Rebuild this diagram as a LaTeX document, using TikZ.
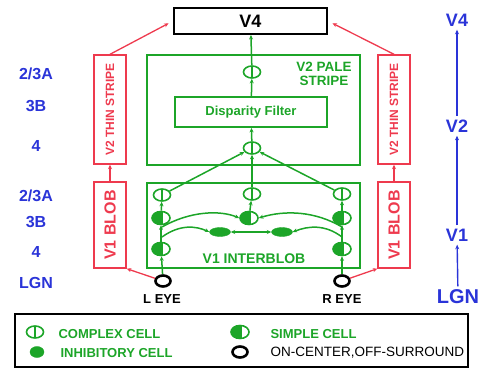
\documentclass[tikz,border=0pt]{standalone}
\usepackage{fontspec}
\setmainfont{Liberation Sans}
\usetikzlibrary{arrows.meta,shapes.geometric}
\definecolor{cellgreen}{RGB}{28,165,40}
\definecolor{stripered}{RGB}{238,58,78}
\definecolor{layerblue}{RGB}{42,52,216}

\begin{document}
\begin{tikzpicture}[x=1pt, y=-1pt, >={Stealth[length=4.5pt,width=4pt]},
	every node/.style={font=\bfseries},
	gbox/.style={draw=cellgreen, line width=1.8pt, inner sep=0pt},
	rbox/.style={draw=stripered, line width=1.4pt, inner sep=0pt, text=stripered},
	cplx/.style={ellipse, draw=cellgreen, line width=1.6pt, minimum width=17pt, minimum height=12pt, inner sep=0pt,
		path picture={\draw[cellgreen, line width=1.6pt] (path picture bounding box.north) -- (path picture bounding box.south);}},
	simp/.style={ellipse, draw=cellgreen, line width=1.6pt, minimum width=18pt, minimum height=13pt, inner sep=0pt,
		path picture={\fill[cellgreen] (path picture bounding box.south west) rectangle ([xshift=1.5pt]path picture bounding box.north);}},
	inhib/.style={ellipse, draw=cellgreen, fill=cellgreen, minimum width=21pt, minimum height=9pt, inner sep=0pt},
	cellring/.style={ellipse, draw=black, line width=2.6pt, minimum width=15pt, minimum height=11pt, inner sep=0pt},
	gline/.style={cellgreen, line width=1.5pt},
	rline/.style={stripered, line width=1.3pt},
	bline/.style={layerblue, line width=1.4pt},
	layertext/.style={text=layerblue, font=\bfseries\fontsize{16}{16}\selectfont},
	areatext/.style={text=layerblue, font=\bfseries\fontsize{18}{18}\selectfont},
	greentext/.style={text=cellgreen, font=\bfseries\fontsize{13}{15}\selectfont}]
	\useasboundingbox (0,0) rectangle (488,369);

	\node[draw, line width=2pt, minimum width=153pt, minimum height=26pt, font=\bfseries\fontsize{18}{18}\selectfont] (v4) at (250.5,21) {V4};
	\node[gbox, minimum width=213pt, minimum height=110pt] (pale) at (253.5,110) {};
	\node[gbox, minimum width=152pt, minimum height=30pt, greentext] (disp) at (251,112) {Disparity Filter};
	\node[greentext, align=center, font=\bfseries\fontsize{13.5}{14}\selectfont] (palelbl) at (324,74) {V2 PALE\\STRIPE};
	\node[gbox, minimum width=213pt, minimum height=85pt] (inter) at (253.5,225.5) {};
	\node[greentext, font=\bfseries\fontsize{14}{14}\selectfont] (interlbl) at (254,259) {V1 INTERBLOB};

	\node[rbox, rotate=90, minimum width=109pt, minimum height=32pt, font=\bfseries\fontsize{12}{12}\selectfont] (lstripe) at (110,109.5) {V2 THIN STRIPE};
	\node[rbox, rotate=90, minimum width=86pt, minimum height=32pt, font=\bfseries\fontsize{16}{16}\selectfont] (lblob) at (110,225) {V1 BLOB};
	\node[rbox, rotate=90, minimum width=109pt, minimum height=32pt, font=\bfseries\fontsize{12}{12}\selectfont] (rstripe) at (394,109.5) {V2 THIN STRIPE};
	\node[rbox, rotate=90, minimum width=86pt, minimum height=32pt, font=\bfseries\fontsize{16}{16}\selectfont] (rblob) at (394,225) {V1 BLOB};

	\node[cplx] (c2top) at (252,72) {};
	\node[cplx] (c2low) at (252,148) {};
	\node[cplx] (lc) at (162,195) {};
	\node[simp] (ls1) at (161,218) {};
	\node[simp] (ls2) at (161,249) {};
	\node[cplx] (cc) at (252,194) {};
	\node[simp] (cs) at (249,218) {};
	\node[cplx] (rc) at (342,194) {};
	\node[simp] (rs1) at (342,218) {};
	\node[simp] (rs2) at (342,249) {};
	\node[inhib] (il) at (220,232) {};
	\node[inhib] (ir) at (282,232) {};
	\node[cellring] (leye) at (163,281) {};
	\node[cellring] (reye) at (342,281) {};
	\node[font=\bfseries\fontsize{13}{13}\selectfont] (leyelbl) at (162,299) {L EYE};
	\node[font=\bfseries\fontsize{13}{13}\selectfont] (reyelbl) at (342,299) {R EYE};

	\draw[gline,->] (leye) -- (ls2);
	\draw[gline,->] (ls2) -- (ls1);
	\draw[gline,->] (ls1) -- (lc);
	\draw[gline,->] (reye) -- (rs2);
	\draw[gline,->] (rs2) -- (rs1);
	\draw[gline,->] (rs1) -- (rc);
	\draw[gline,->] (cs) -- (cc);
	\foreach \n in {lc,cc,rc} {\draw[gline,->] (\n) -- (c2low);}
	\draw[gline,->] (c2low) -- (disp);
	\draw[gline,->] (disp) -- (c2top);
	\draw[gline,->] (c2top) -- (v4);
	\coordinate (la) at (162,227);
	\coordinate (lb) at (162,237);
	\coordinate (ra) at (342,227);
	\coordinate (rb) at (342,237);
	\draw[gline,->] (la) .. controls (190,211) and (220,210) .. (cs.west);
	\draw[gline,->] (lb) .. controls (180,224) and (196,226) .. (il.west);
	\draw[gline,->] (ra) .. controls (315,211) and (285,210) .. (cs.east);
	\draw[gline,->] (rb) .. controls (325,224) and (308,226) .. (ir.east);
	\draw[gline,<->] (il) -- (ir);

	\draw[rline,->] (leye) -- (lblob.south west);
	\draw[rline,->] (reye) -- (rblob.north west);
	\draw[rline,->] (lblob) -- (lstripe);
	\draw[rline,->] (rblob) -- (rstripe);
	\draw[rline,->, shorten >=5pt] (lstripe.east) -- (v4.west);
	\draw[rline,->, shorten >=5pt] (rstripe.east) -- (v4.east);

	\foreach \y/\t [count=\i] in {74/{2/3A}, 106/3B, 146/4, 196/{2/3A}, 222/3B, 252/4, 283/LGN} {
		\node[layertext] (lay\i) at (36,\y) {\t};
	}
	\node[areatext] (rv4) at (457,20) {V4};
	\node[areatext] (rv2) at (457,126) {V2};
	\node[areatext] (rv1) at (457,235) {V1};
	\node[areatext, font=\bfseries\fontsize{20}{20}\selectfont] (rlgn) at (458,297) {LGN};
	\draw[bline,->] (rlgn) -- (rv1);
	\draw[bline,->] (rv1) -- (rv2);
	\draw[bline,->] (rv2) -- (rv4);

	\node[draw, line width=1.4pt, minimum width=453pt, minimum height=53pt] (legend) at (241.5,340.5) {};
	\node[cplx] (lgc) at (35,332) {};
	\node[inhib, minimum width=14pt, minimum height=11pt] (lgi) at (37,352) {};
	\node[simp] (lgs) at (240,332) {};
	\node[cellring] (lgr) at (240,352) {};
	\node[greentext, anchor=west] (lgctext) at (55,334) {COMPLEX CELL};
	\node[greentext, anchor=west] (lgitext) at (57,353) {INHIBITORY CELL};
	\node[greentext, anchor=west] (lgstext) at (267,334) {SIMPLE CELL};
	\node[anchor=west, font=\fontsize{13.5}{14}\selectfont] (lgrtext) at (267,353) {ON-CENTER,OFF-SURROUND};
\end{tikzpicture}
\end{document}
